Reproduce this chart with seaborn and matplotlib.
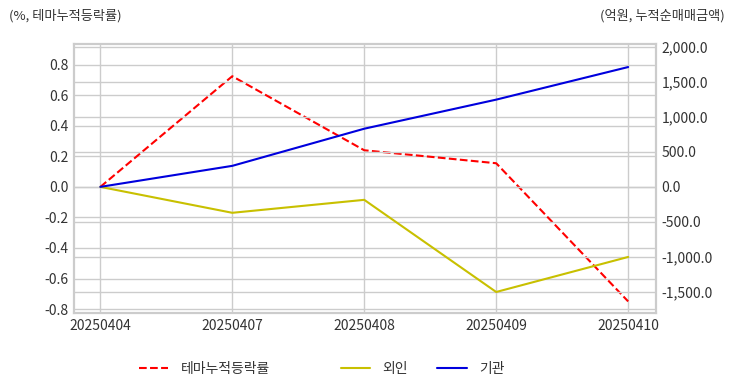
import matplotlib
matplotlib.use("Agg")
import matplotlib.pyplot as plt
import matplotlib.ticker as mticker
import numpy as np
import pandas as pd
import seaborn as sns

dates = ["20250404", "20250407", "20250408", "20250409", "20250410"]
theme_rate = [0.0, 0.725, 0.24, 0.155, -0.75]      # %, left axis
foreign = [0.0, -370.0, -185.0, -1500.0, -1000.0]    # 억원, right axis
institution = [0.0, 300.0, 830.0, 1245.0, 1710.0]    # 억원, right axis

left_ticks = [-0.8, -0.6, -0.4, -0.2, 0.0, 0.2, 0.4, 0.6, 0.8]
right_ticks = [-1500, -1000, -500, 0, 500, 1000, 1500, 2000]

df = pd.DataFrame({"date": dates, "theme": theme_rate,
                   "foreign": foreign, "inst": institution})
df["pos"] = np.arange(len(dates))

sns.set_theme(style="whitegrid")
plt.rcParams["font.family"] = ["Noto Sans CJK KR", "DejaVu Sans"]
plt.rcParams["axes.unicode_minus"] = False

fig = plt.figure(figsize=(7.32, 3.92), dpi=100)
ax = fig.add_axes([0.101, 0.2015, 0.795, 0.687])
ax2 = ax.twinx()

sns.lineplot(data=df, x="pos", y="theme", ax=ax, color="red", linestyle="--",
             linewidth=1.5, label="테마누적등락률", legend=False)
sns.lineplot(data=df, x="pos", y="foreign", ax=ax2, color="#c8c000",
             linewidth=1.5, label="외인", legend=False)
sns.lineplot(data=df, x="pos", y="inst", ax=ax2, color="#0000dd",
             linewidth=1.5, label="기관", legend=False)

ax.set_xlim(-0.2, len(dates) - 1 + 0.21)
ax.set_xticks(df["pos"])
ax.set_xticklabels(dates)
ax.set_ylim(-0.826, 0.938)
ax.set_yticks(left_ticks)
ax.yaxis.set_major_formatter(mticker.FuncFormatter(lambda v, p: f"{v:.1f}"))
ax2.set_ylim(-1800, 2043)
ax2.set_yticks(right_ticks)
ax2.yaxis.set_major_formatter(mticker.FuncFormatter(lambda v, p: f"{v:,.1f}"))

for a in (ax, ax2):
    a.set_xlabel("")
    a.set_ylabel("")
    a.tick_params(axis="both", labelsize=10, colors="#333333", pad=4, length=0)
    for s in a.spines.values():
        s.set_color("#cccccc")
        s.set_linewidth(1.5)

fig.text(0.012, 0.96, "(%, 테마누적등락률)", fontsize=9.5, color="#333333", va="center")
fig.text(0.99, 0.96, "(억원, 누적순매매금액)", fontsize=9.5, color="#333333",
         va="center", ha="right")

h1, l1 = ax.get_legend_handles_labels()
h2, l2 = ax2.get_legend_handles_labels()
leg_kw = dict(loc="center left", frameon=False, fontsize=10, handlelength=2.1,
              handletextpad=0.9, borderpad=0, borderaxespad=0,
              labelcolor="#333333")
leg1 = fig.legend(h1, l1, bbox_to_anchor=(139 / 732, 0.059), **leg_kw)
fig.legend(h2, l2, bbox_to_anchor=(341 / 732, 0.059), ncol=2,
           columnspacing=2.1, **leg_kw)

fig.savefig("out.png", dpi=100)
